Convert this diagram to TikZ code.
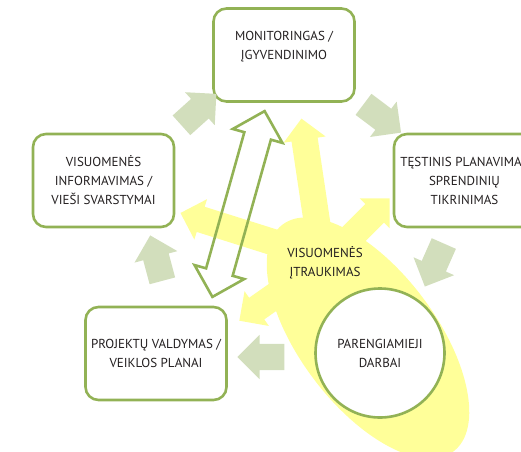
\documentclass[tikz,border=0pt]{standalone}
\usepackage{fontspec}
\setmainfont{PT Sans}
\usetikzlibrary{shapes.arrows}

\definecolor{boxgreen}{RGB}{146,178,85}
\definecolor{sage}{RGB}{210,222,188}
\definecolor{paleyellow}{RGB}{255,255,153}
\definecolor{textgray}{RGB}{35,31,32}

\begin{document}
\begin{tikzpicture}[x = 1pt, y = 1pt,
	stage/.style = {draw = boxgreen, line width = 2.6pt, fill = white, rounded corners = 13pt, minimum width = 141pt, minimum height = 93pt, align = center, text = textgray, font = \fontsize{13}{19}\selectfont},
	sagearrow/.style = {single arrow, fill = sage, inner xsep = 0pt, inner ysep = 13pt, minimum height = 47pt, single arrow head extend = 9pt},
	sunarrow/.style = {single arrow, fill = paleyellow, inner xsep = 0pt, inner ysep = 13pt, single arrow head extend = 8pt}]
		\useasboundingbox (0, 0) rectangle (521, 451);
		\clip (0, 0) rectangle (521, 451);
		
		\fill[paleyellow, rotate around = {-53:(368, 113)}] (368, 113) ellipse (142pt and 68pt);
		
		\node[sunarrow, minimum height = 116pt, rotate = 98.5] (sunup) at (311, 268.5) {};
		\node[sunarrow, minimum height = 120pt, rotate = 162.5] (sunleft) at (244, 218) {};
		\node[sunarrow, minimum height = 75pt, rotate = 45] (sunright) at (358.5, 221.5) {};
		\node[sunarrow, minimum height = 80pt, rotate = 215] (sundown) at (277.5, 157) {};
		
		\node[text = textgray, align = center, font = \fontsize{13}{19}\selectfont] (civic) at (325, 188) {VISUOMENĖS\\ĮTRAUKIMAS};
		
		\node[stage] (mon) at (284, 396) {MONITORINGAS /\\ĮGYVENDINIMO\\\mbox{}};
		\node[stage] (tes) at (464.5, 270.5) {TĘSTINIS PLANAVIMAS\\SPRENDINIŲ\\TIKRINIMAS};
		\node[stage] (inf) at (103.5, 270.5) {VISUOMENĖS\\INFORMAVIMAS /\\VIEŠI SVARSTYMAI};
		\node[stage] (proj) at (156, 97.5) {PROJEKTŲ VALDYMAS /\\VEIKLOS PLANAI};
		\node[circle, draw = boxgreen, line width = 2.6pt, fill = white, minimum size = 129pt, align = center, text = textgray, font = \fontsize{13}{19}\selectfont] (prep) at (380, 98) {PARENGIAMIEJI\\DARBAI};
		
		\node[sagearrow, rotate = 42] (infmon) at (194, 337) {};
		\node[sagearrow, rotate = -37] (montes) at (377, 336.5) {};
		\node[sagearrow, rotate = -113.8] (tesprep) at (437, 192) {};
		\node[sagearrow, rotate = 180] (prepproj) at (267.5, 94) {};
		\node[sagearrow, rotate = 105] (projinf) at (158, 186.5) {};
		
		\node[double arrow, draw = boxgreen, line width = 2.6pt, inner xsep = 0pt, inner ysep = 12.5pt, minimum height = 193pt, double arrow head extend = 12pt, rotate = 74.3] (link) at (238.5, 247) {};
	\end{tikzpicture}
\end{document}
